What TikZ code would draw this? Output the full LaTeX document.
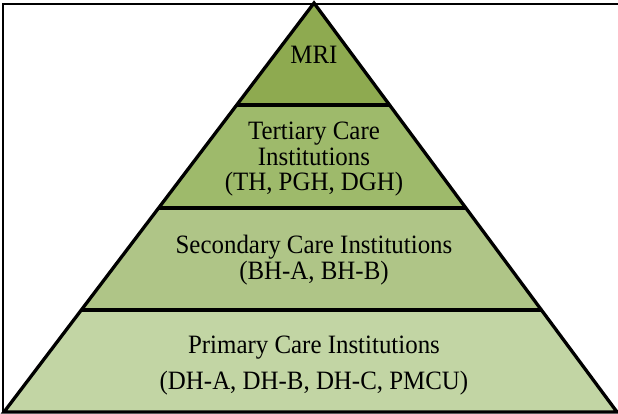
\documentclass[tikz,border=0pt]{standalone}
\usepackage{fontspec}
\setmainfont[FakeStretch=0.94]{Liberation Serif}
\definecolor{tierA}{HTML}{8EAA50}
\definecolor{tierB}{HTML}{9EBA6B}
\definecolor{tierC}{HTML}{AFC587}
\definecolor{tierD}{HTML}{C2D5A4}
\begin{document}
\begin{tikzpicture}[x=1pt,y=-1pt,
  frame/.style={line width=2.4pt, draw=black},
  edge/.style={line width=3.3pt, draw=black, line join=miter, line cap=butt},
  lbl/.style={font=\fontsize{26.5}{27}\selectfont, anchor=base, inner sep=0pt}]
\useasboundingbox (0,0) rectangle (618,413);
% outer frame
\draw[frame] (3,4) rectangle (622,412);
% pyramid corners and tier boundaries
\coordinate (apex) at (314,3);
\coordinate (bl) at (4,412);
\coordinate (br) at (617,412);
\coordinate (l1) at (236.1,105); \coordinate (r1) at (390.1,105);
\coordinate (l2) at (158.2,208); \coordinate (r2) at (466.2,208);
\coordinate (l3) at (81.1,310);  \coordinate (r3) at (541.6,310);
% tier fills
\fill[tierA] (apex) -- (r1) -- (l1) -- cycle;
\fill[tierB] (l1) -- (r1) -- (r2) -- (l2) -- cycle;
\fill[tierC] (l2) -- (r2) -- (r3) -- (l3) -- cycle;
\fill[tierD] (l3) -- (r3) -- (br) -- (bl) -- cycle;
% dividers and outline
\draw[edge] (l1) -- (r1);
\draw[edge] (l2) -- (r2);
\draw[edge] (l3) -- (r3);
\draw[edge] (bl) -- (apex) -- (br) -- cycle;
% labels
\node[lbl] (mri) at (314,63) {MRI};
\node[lbl] (ter1) at (314,139) {Tertiary Care};
\node[lbl] (ter2) at (314,165) {Institutions};
\node[lbl] (ter3) at (314,190) {(TH, PGH, DGH)};
\node[lbl] (sec1) at (314,253) {Secondary Care Institutions};
\node[lbl] (sec2) at (314,279) {(BH-A, BH-B)};
\node[lbl] (pri1) at (314,353) {Primary Care Institutions};
\node[lbl] (pri2) at (314,389) {(DH-A, DH-B, DH-C, PMCU)};
\end{tikzpicture}
\end{document}
